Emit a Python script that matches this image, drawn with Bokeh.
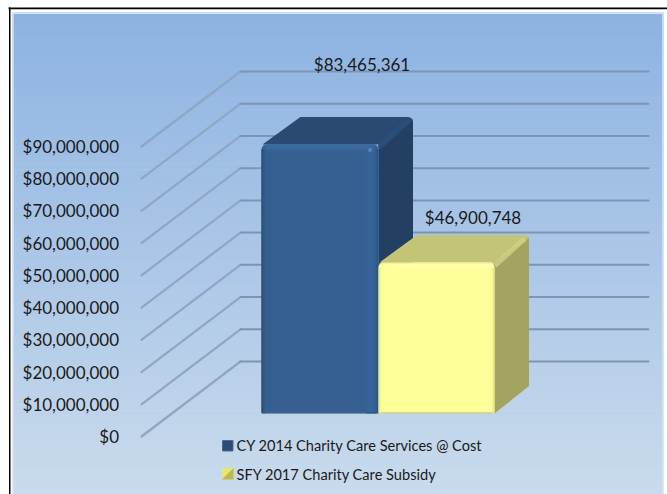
import math
from bokeh.plotting import figure
from bokeh.models import Range1d, LinearAxis, FixedTicker, NumeralTickFormatter
from bokeh.core.properties import value
from bokeh.embed import file_html
from bokeh.resources import INLINE

# ---- data ----
series_names = ["CY 2014 Charity Care Services @ Cost", "SFY 2017 Charity Care Subsidy"]
series_values = [83465361, 46900748]
tick_values = [0, 10000000, 20000000, 30000000, 40000000, 50000000,
               60000000, 70000000, 80000000, 90000000]

# ---- layout / style (page pixels, oblique 3-D projection) ----
FONT = "Lato"
W, H = 667, 494
Y0_PX = 436.0
PX_PER_USD = 290.0 / 90000000
BACK_DX, BACK_DY = 99.0, 75.0
BAR_X = [(261.0, 378.0), (378.0, 494.0)]
BAR_BASE_DY = 23.0
SIDE_DX, SIDE_DY = 34.5, 27.5
BAR_COL = [
    dict(front="#366092", top="#2A4A72", side="#233F62", ridge="#2C507F",
         left=["#27456D", "#2E5280", "#325A8A"], right=["#37629A", "#38659A", "#38659A", "#37629A", "#336090", "#2D5583"],
         topb=["#3A689E", "#3D6CA3", "#3A679C", "#376396"], bottom="#2C4F7A", spot="#5C8FC8"),
    dict(front="#FFFF99", top="#C4C477", side="#A3A362", ridge="#D0D080",
         left=["#D8D880", "#EEEE8E", "#F9F995"], right=["#FBFB96", "#EDED8D", "#DADA82"],
         topb=["#F4F493", "#FFFFAE", "#FFFFA6", "#FFFF9E"], bottom="#D0D07C", spot="#FFFFE0"),
]
LABEL_POS = [(361.5, 64.0), (472.5, 217.0)]


def usd(y):
    return (Y0_PX - y) / PX_PER_USD


def rup(px):
    return px / PX_PER_USD


p = figure(width=W, height=H, x_range=Range1d(0, W),
           y_range=Range1d(usd(H), usd(0)), output_backend="svg",
           toolbar_location=None, min_border=0, outline_line_color=None,
           background_fill_color="white", border_fill_color="white")
p.xaxis.visible = False
p.yaxis.visible = False
p.xgrid.visible = False
p.ygrid.visible = False

# panel gradient
C0, C1 = (0x8D, 0xB3, 0xE2), (0xC9, 0xDA, 0xEC)
N = 80
top_px, bot_px = 12.0, 494.0
for i in range(N):
    t = i / (N - 1)
    c = tuple(int(round(a + (b - a) * t)) for a, b in zip(C0, C1))
    y0 = top_px + (bot_px - top_px) * i / N
    y1 = min(top_px + (bot_px - top_px) * (i + 1) / N + 0.7, bot_px)
    p.quad(left=12, right=663, top=usd(y0), bottom=usd(y1),
           fill_color="#%02x%02x%02x" % c, line_color=None)
# panel soft edge
p.quad(left=12, right=663, top=usd(12), bottom=usd(13.5), fill_color="#D6E2F1", line_color=None)
p.quad(left=12, right=13.5, top=usd(12), bottom=usd(H), fill_color="#D6E2F1", line_color=None, fill_alpha=0.8)
p.quad(left=661.5, right=663, top=usd(12), bottom=usd(H), fill_color="#D6E2F1", line_color=None, fill_alpha=0.8)

# black frame lines of the page
p.quad(left=8, right=W, top=usd(7), bottom=usd(8.7), fill_color="black", line_color=None)
p.quad(left=8.5, right=10, top=usd(7), bottom=usd(H), fill_color="black", line_color=None)

# gridlines: floor diagonal + back wall
for v in tick_values:
    back = v + rup(BACK_DY)
    p.line([141, 141 + BACK_DX], [v, back], line_color="#8FA6C4", line_width=2.2, line_cap="round")
    p.line([141 + BACK_DX, 648], [back, back], line_color="#7D94B4", line_width=2.0, line_cap="round")


def arc(cx, cy, r, a0, a1, n=5):
    """Corner points in pixel offsets, y up, around (cx, cy usd)."""
    xs, ys = [], []
    for k in range(n + 1):
        a = math.radians(a0 + (a1 - a0) * k / n)
        xs.append(cx + r * math.cos(a))
        ys.append(cy + rup(r * math.sin(a)))
    return xs, ys


for v, (xl, xr), col in zip(series_values, BAR_X, BAR_COL):
    ybot = rup(BAR_BASE_DY)
    ytop = v + ybot
    sx, sy = SIDE_DX, rup(SIDE_DY)
    r = 5.0

    # side face
    ax_, ay_ = arc(xr + sx - r, ytop + sy - rup(r), r, 45, 0)
    p.patch([xr] + ax_ + [xr + sx, xr], [ytop] + ay_ + [ybot + sy, ybot],
            fill_color=col["side"], line_color=None)
    # top face
    a1x, a1y = arc(xl + sx + 3 + 2, ytop + sy - rup(2), 2, 130, 90, 3)
    a2x, a2y = arc(xr + sx - r, ytop + sy - rup(r), r, 90, 20)
    p.patch([xl + 1] + a1x + a2x + [xr], [ytop] + a1y + a2y + [ytop],
            fill_color=col["top"], line_color=None)
    # ridge between top and side (a tapered band inside the silhouette)
    p.patch([xr - 1, xr + sx - 6, xr + sx - 2.5, xr + 2],
            [ytop - rup(1), ytop + sy - rup(1.5), ytop + sy - rup(5.5), ytop - rup(5)],
            fill_color=col["ridge"], fill_alpha=0.85, line_color=None)

    # front face, rounded on top
    b1x, b1y = arc(xl + r, ytop - rup(r), r, 180, 90)
    b2x, b2y = arc(xr - r, ytop - rup(r), r, 90, 0)
    p.patch([xl] + b1x + b2x + [xr], [ybot + rup(1)] + b1y + b2y + [ybot + rup(1)],
            fill_color=col["front"], line_color=None)
    # bevels: strips of a px or so
    for k, c in enumerate(col["left"]):
        p.quad(left=xl + k, right=xl + k + 1.2, top=ytop - rup(5), bottom=ybot, fill_color=c, line_color=None)
    nr = len(col["right"])
    for k, c in enumerate(col["right"]):
        w = 12.0 / nr if nr > 3 else 1.0
        p.quad(left=xr - (nr - k) * w, right=xr - (nr - k - 1) * w, top=ytop - rup(5), bottom=ybot,
               fill_color=c, line_color=None)
    for k, c in enumerate(col["topb"]):
        p.quad(left=xl + 4 - (1 if k == 0 else 0), right=xr - 4 + (1 if k == 0 else 0),
               top=ytop - rup(k * 1.5), bottom=ytop - rup((k + 1) * 1.5 + 0.3),
               fill_color=c, line_color=None)
    p.quad(left=xl + 2, right=xr - 2, top=ybot + rup(1.2), bottom=ybot, fill_color=col["bottom"], line_color=None)
    p.scatter([xr - 8.5], [ytop - rup(5.5)], size=4, marker="circle", fill_color=col["spot"], line_color=None, fill_alpha=0.8)

# value-axis labels through a real axis placed in the frame
ax = LinearAxis(ticker=FixedTicker(ticks=tick_values),
                formatter=NumeralTickFormatter(format="$0,0"),
                fixed_location=127.5,
                axis_line_color=None, major_tick_line_color=None, minor_tick_line_color=None,
                major_label_text_font=FONT, major_label_text_font_size="17px",
                major_label_text_color="#1a1a1a", major_label_standoff=3)
p.add_layout(ax, "left")

# data labels
for v, (lx, ly) in zip(series_values, LABEL_POS):
    p.text([lx], [usd(ly)], text=["${:,}".format(v)], text_font=value(FONT),
           text_font_size="17px", text_color="#1a1a1a", text_align="center", text_baseline="middle")

# legend
p.quad(left=222, right=232.5, top=usd(440), bottom=usd(450.5), fill_color="#2A4A78", line_color="#4A6A94", line_width=1)
p.quad(left=221.5, right=233, top=usd(467.5), bottom=usd(479), fill_color="#E8E670", line_color=None)
p.patch([221.5, 233, 233], [usd(479), usd(467.5), usd(479)], fill_color="#B9B85A", line_color=None)
for name, ly in zip(series_names, [444.5, 473.5]):
    p.text([236], [usd(ly)], text=[name], text_font=value(FONT), text_font_size="14.6px",
           text_color="#1a1a1a", text_align="left", text_baseline="middle")

open("out.html", "w").write(file_html(p, INLINE))
